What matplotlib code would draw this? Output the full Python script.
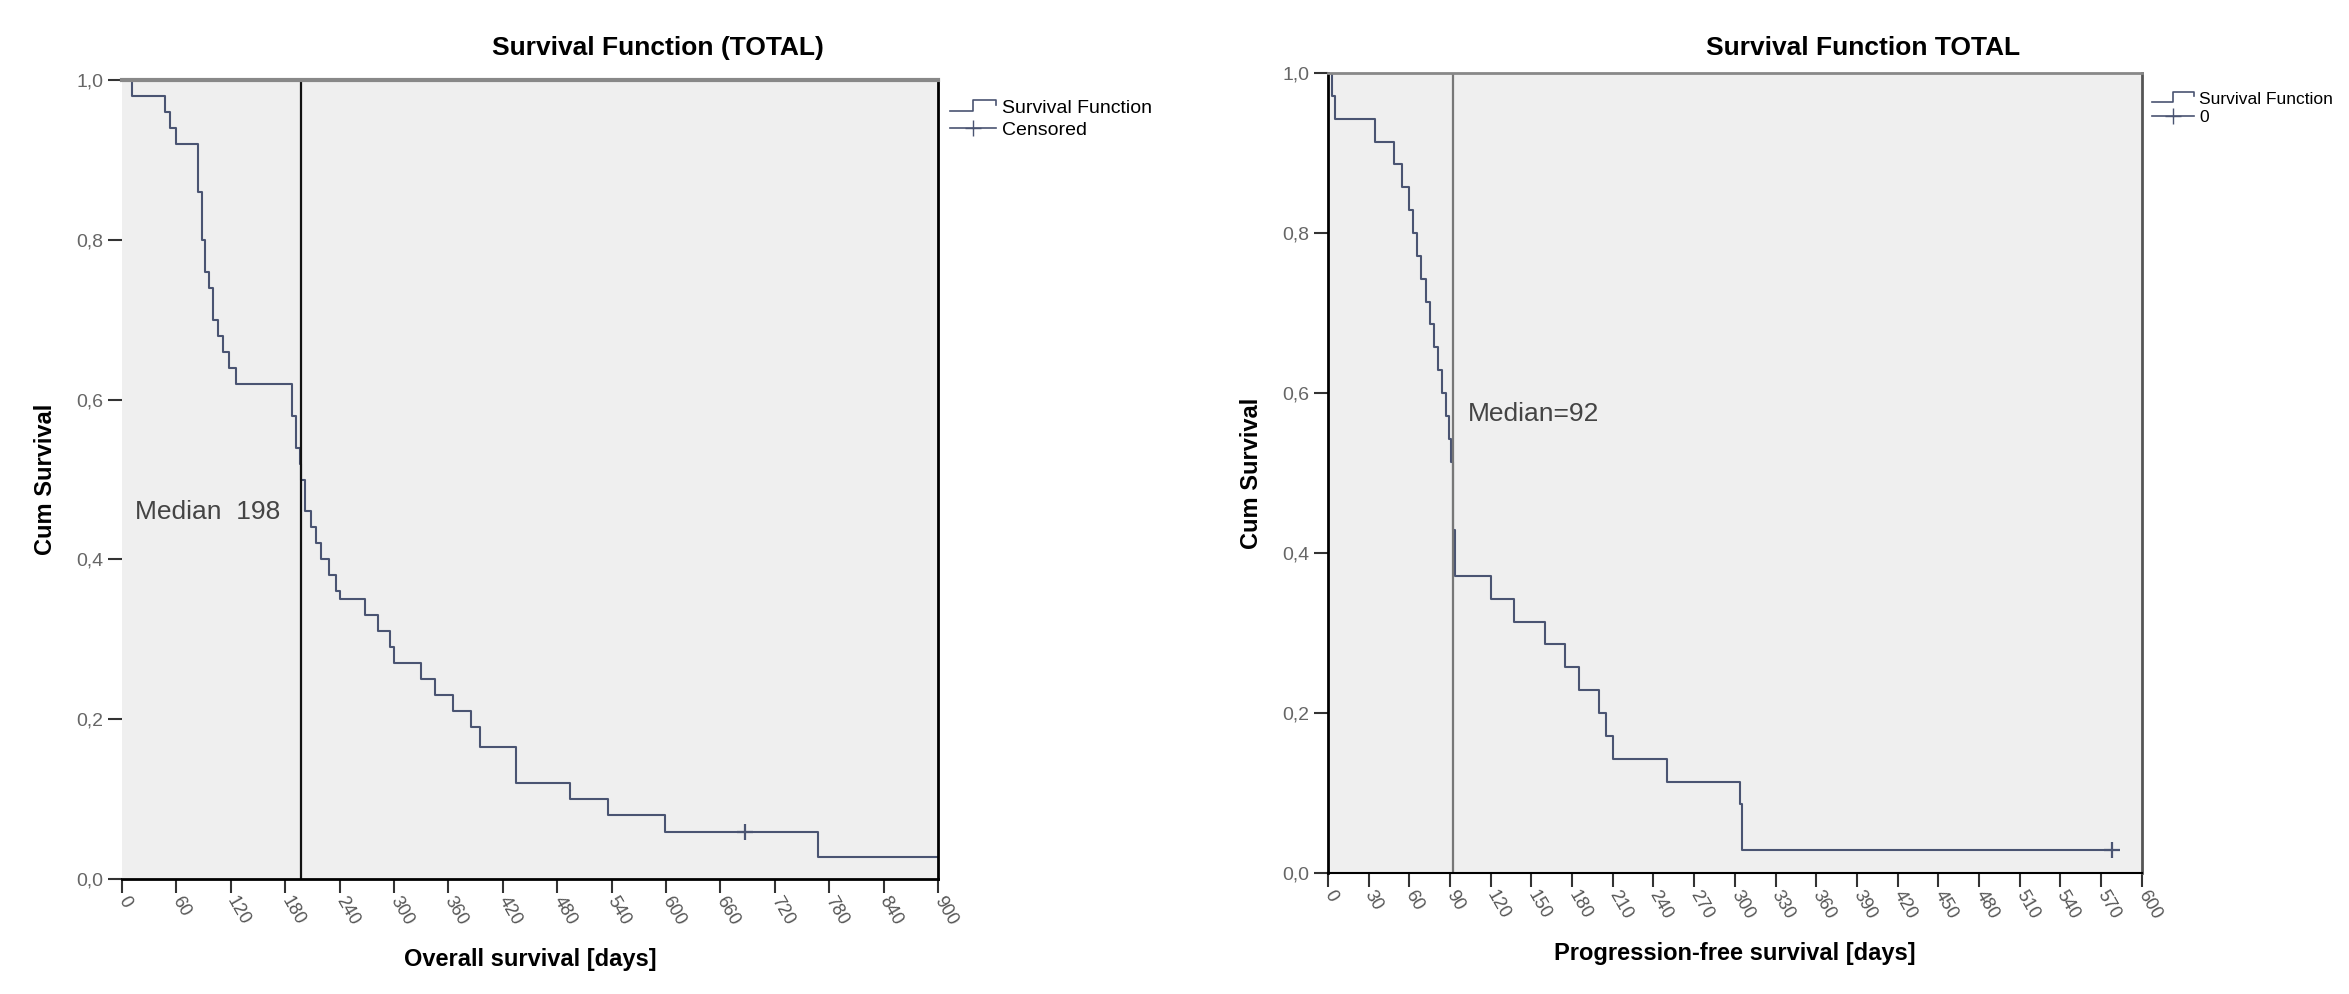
import numpy as np
import matplotlib.pyplot as plt
from matplotlib.lines import Line2D
from matplotlib.legend_handler import HandlerBase
from matplotlib import font_manager

# Kaplan-Meier curves (time in days, cumulative survival)
os_times = [0, 11, 47, 53, 60, 84, 88, 92, 96, 100, 106, 112, 118, 126, 188, 192, 196, 198,
            202, 208, 214, 220, 228, 236, 240, 268, 282, 296, 300, 330, 345, 365, 385, 395,
            435, 494, 536, 599, 768]
os_surv = [1.0, 0.98, 0.96, 0.94, 0.92, 0.86, 0.80, 0.76, 0.74, 0.70, 0.68, 0.66, 0.64, 0.62,
           0.58, 0.54, 0.52, 0.50, 0.46, 0.44, 0.42, 0.40, 0.38, 0.36, 0.35, 0.33, 0.31, 0.29,
           0.27, 0.25, 0.23, 0.21, 0.19, 0.165, 0.12, 0.10, 0.08, 0.059, 0.0275]
os_end = 900
os_censor_t = [687]
os_censor_s = [0.059]
os_median = 198

pfs_times = [0, 3, 5, 35, 49, 55, 60, 63, 66, 69, 72, 75, 78, 81, 84, 87, 89, 91, 92, 94,
             120, 137, 160, 175, 185, 200, 205, 210, 250, 304, 305]
pfs_surv = [1.0, 0.971, 0.943, 0.914, 0.886, 0.857, 0.829, 0.800, 0.771, 0.743, 0.714, 0.686,
            0.657, 0.629, 0.600, 0.571, 0.543, 0.514, 0.429, 0.371, 0.343, 0.314, 0.286, 0.257,
            0.229, 0.200, 0.171, 0.143, 0.114, 0.086, 0.029]
pfs_end = 578
pfs_censor_t = [578]
pfs_censor_s = [0.029]
pfs_median = 92

os_xticks = list(range(0, 901, 60))
pfs_xticks = list(range(0, 601, 30))
yticks = [0.0, 0.2, 0.4, 0.6, 0.8, 1.0]

names = {f.name for f in font_manager.fontManager.ttflist}
narrow = 'Liberation Sans Narrow' if 'Liberation Sans Narrow' in names else 'Liberation Sans'

line_c = '#4a5472'
bg = '#efefef'


class StepHandler(HandlerBase):
    def create_artists(self, legend, orig, xd, yd, w, h, fontsize, trans):
        xs = [-xd, -xd + w * 0.5, -xd + w * 0.5, -xd + w, -xd + w]
        ys = [-yd + h * 0.15, -yd + h * 0.15, -yd + h * 0.95, -yd + h * 0.95, -yd + h * 0.6]
        ln = Line2D(xs, ys, color=line_c, lw=1.2, transform=trans)
        return [ln]


def km_panel(ax, times, surv, end, ct, cs, med, xticks, xlabel, med_text, med_pos,
             med_color, leg_labels, leg_size):
    ax.set_facecolor(bg)
    ax.step(times + [end], surv + [surv[-1]], where='post', color=line_c, lw=1.5)
    ax.plot(ct, cs, '+', color=line_c, ms=12, mew=1.6)
    ax.axvline(med, color=med_color, lw=1.6)
    ax.set_xlim(xticks[0], xticks[-1])
    ax.set_ylim(0, 1)
    ax.set_xticks(xticks)
    ax.set_xticklabels([str(v) for v in xticks], rotation=-60, rotation_mode='anchor',
                       ha='left', va='center', fontsize=13, color='#555555', family=narrow)
    ax.set_yticks(yticks)
    ax.set_yticklabels([f'{v:.1f}'.replace('.', ',') for v in yticks], fontsize=14,
                       color='#666666', family=narrow)
    ax.tick_params(axis='both', length=10, width=1.5, color='#333333')
    ax.set_ylabel('Cum Survival', fontsize=17, fontweight='bold', family=narrow, labelpad=14)
    ax.set_xlabel(xlabel, fontsize=17, fontweight='bold', family=narrow, labelpad=14)
    ax.text(med_pos[0], med_pos[1], med_text, fontsize=19, color='#444444', family=narrow)
    handles = [Line2D([0], [0], color=line_c),
               Line2D([0], [0], color=line_c, marker='+', ms=12, lw=1.2)]
    ax.legend(handles, leg_labels, handler_map={handles[0]: StepHandler()},
              loc='upper left', bbox_to_anchor=(1.0, 0.99), frameon=False,
              handlelength=2.4, handletextpad=0.3, borderaxespad=0.2, labelspacing=0.2,
              prop={'family': narrow, 'size': leg_size})
    return ax


fig = plt.figure(figsize=(23.49, 9.94), dpi=100)
ax1 = fig.add_axes([0.0519, 0.1157, 0.3474, 0.8038])
ax2 = fig.add_axes([0.5653, 0.1217, 0.3465, 0.8048])

km_panel(ax1, os_times, os_surv, os_end, os_censor_t, os_censor_s, os_median, os_xticks,
         'Overall survival [days]', 'Median  198', (14, 0.45),
         '#111111', ['Survival Function', 'Censored'], 14)
km_panel(ax2, pfs_times, pfs_surv, pfs_end, pfs_censor_t, pfs_censor_s, pfs_median, pfs_xticks,
         'Progression-free survival [days]', 'Median=92', (103, 0.565),
         '#777777', ['Survival Function', '0'], 12.5)

ax1.spines['top'].set_color('#888888')
ax1.spines['top'].set_linewidth(3)
ax1.spines['left'].set_visible(False)
ax1.spines['right'].set_linewidth(2)
ax1.spines['bottom'].set_linewidth(2)

ax2.spines['top'].set_color('#888888')
ax2.spines['top'].set_linewidth(2)
ax2.spines['right'].set_color('#555555')
ax2.spines['right'].set_linewidth(2)
ax2.spines['left'].set_linewidth(2)
ax2.spines['bottom'].set_linewidth(1.5)

fig.text(0.280, 0.952, 'Survival Function (TOTAL)', fontsize=19, fontweight='bold',
         family=narrow, ha='center', va='center')
fig.text(0.793, 0.952, 'Survival Function TOTAL', fontsize=19, fontweight='bold',
         family=narrow, ha='center', va='center')

plt.savefig('out.png', dpi=100)
plt.close()
